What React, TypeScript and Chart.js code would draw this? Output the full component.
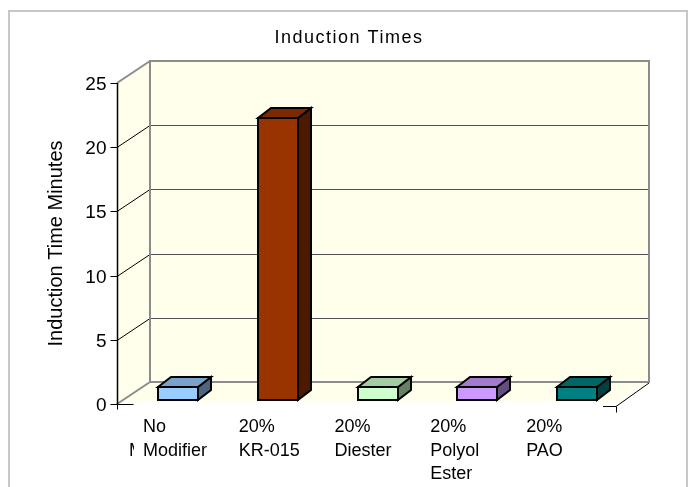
import React, { useEffect, useRef } from 'react';
import { Chart, registerables } from 'chart.js';

Chart.register(...registerables);

const categories: string[][] = [
  ['No', 'Modifier'],
  ['20%', 'KR-015'],
  ['20%', 'Diester'],
  ['20%', 'Polyol', 'Ester'],
  ['20%', 'PAO'],
];
const inductionTimes = [1, 22, 1, 1, 1];
const yTicks = [0, 5, 10, 15, 20, 25];
const frontColors = ['#99CCFF', '#993300', '#CCFFCC', '#CC99FF', '#008080'];
const topColors = ['#7AA3CC', '#7A2900', '#A3CCA3', '#A37ACC', '#006666'];
const sideColors = ['#4D6680', '#4D1A00', '#668066', '#664D80', '#004040'];
const chartTitle = 'Induction Times';
const yAxisTitle = 'Induction Time Minutes';

const FONT = "'Liberation Sans', Arial, sans-serif";
const WALL = '#FFFFEB';
const EDGE = '#8C8C8C';
const DX = -33; // back plane -> front plane
const DY = 22;
const BAR_OFF_X = -22;
const BAR_OFF_Y = 18;
const BAR_DX = 13;
const BAR_DY = -10;

function poly(ctx: CanvasRenderingContext2D, pts: number[][]) {
  ctx.beginPath();
  ctx.moveTo(pts[0][0], pts[0][1]);
  for (let i = 1; i < pts.length; i++) ctx.lineTo(pts[i][0], pts[i][1]);
  ctx.closePath();
}

function line(ctx: CanvasRenderingContext2D, x1: number, y1: number, x2: number, y2: number, color: string, w: number) {
  ctx.beginPath();
  ctx.moveTo(x1, y1);
  ctx.lineTo(x2, y2);
  ctx.strokeStyle = color;
  ctx.lineWidth = w;
  ctx.stroke();
}

const excel3d = {
  id: 'excel3d',
  beforeDatasetsDraw(chart: any) {
    const ctx: CanvasRenderingContext2D = chart.ctx;
    const a = chart.chartArea;
    const xs = chart.scales.x;
    const ys = chart.scales.y;
    const L = a.left;
    const R = a.right;
    const T = ys.getPixelForValue(yTicks[yTicks.length - 1]);
    const B = ys.getPixelForValue(0);
    ctx.save();

    // outer border
    ctx.strokeStyle = '#C8C8C8';
    ctx.lineWidth = 2;
    ctx.strokeRect(9, 11, 678, 490);

    // walls and floor
    ctx.fillStyle = WALL;
    ctx.fillRect(L, T, R - L, B - T);
    poly(ctx, [[L, T], [L + DX, T + DY], [L + DX, B + DY], [L, B]]);
    ctx.fill();
    poly(ctx, [[L, B], [R, B], [R + DX, B + DY - 2], [L + DX, B + DY - 2]]);
    ctx.fill();

    // gridlines
    yTicks.forEach((t) => {
      const yb = Math.round(ys.getPixelForValue(t));
      if (t !== 0 && t !== yTicks[yTicks.length - 1]) {
        line(ctx, L, yb + 0.5, R, yb + 0.5, '#505050', 1);
        line(ctx, L, yb + 0.5, L + DX, yb + DY + 0.5, '#000000', 1);
      }
    });

    // wall edges
    ctx.strokeStyle = EDGE;
    ctx.lineWidth = 2;
    ctx.strokeRect(L, T, R - L, B - T);
    line(ctx, L, T, L + DX, T + DY, EDGE, 2);
    line(ctx, L, B, L + DX, B + DY, EDGE, 2);

    // front axis
    const fx = L + DX + 0.5;
    line(ctx, fx, T + DY, fx, B + DY, '#000000', 1.5);
    ctx.fillStyle = '#000000';
    ctx.font = `19px ${FONT}`;
    ctx.textAlign = 'right';
    ctx.textBaseline = 'middle';
    yTicks.forEach((t, i) => {
      const yf = Math.round(ys.getPixelForValue(t) + DY) + 0.5;
      line(ctx, fx - 7, yf, fx, yf, '#000000', 1);
      ctx.fillText(String(yTicks[i]), fx - 11, yf + 1);
    });

    // floor front edge pieces and right diagonal
    const fy = Math.round(B + DY) + 0.5;
    line(ctx, fx, fy, fx + 16, fy, '#000000', 1);
    line(ctx, fx, fy, fx, fy + 5, '#000000', 1);
    line(ctx, R + DX - 13, fy + 2, R + DX, fy + 2, '#000000', 1);
    line(ctx, R + DX + 0.5, fy + 2, R + DX + 0.5, fy + 8, '#000000', 1);
    line(ctx, R, B + 1, R + DX, fy + 2, '#000000', 1);

    // bars
    const meta = chart.getDatasetMeta(0);
    ctx.lineJoin = 'miter';
    meta.data.forEach((el: any, i: number) => {
      const p = el.getProps(['x', 'y', 'base', 'width'], true);
      const x0 = Math.round(p.x - p.width / 2 + BAR_OFF_X);
      const x1 = Math.round(x0 + p.width);
      const yT = Math.round(p.y + BAR_OFF_Y);
      const yB = Math.round(p.base + BAR_OFF_Y);
      ctx.lineWidth = 2;
      ctx.strokeStyle = '#000000';
      // side
      poly(ctx, [[x1, yT], [x1 + BAR_DX, yT + BAR_DY], [x1 + BAR_DX, yB + BAR_DY], [x1, yB]]);
      ctx.fillStyle = sideColors[i];
      ctx.fill();
      ctx.stroke();
      // top
      poly(ctx, [[x0, yT], [x0 + BAR_DX, yT + BAR_DY], [x1 + BAR_DX, yT + BAR_DY], [x1, yT]]);
      ctx.fillStyle = topColors[i];
      ctx.fill();
      ctx.stroke();
      // front
      ctx.fillStyle = frontColors[i];
      ctx.fillRect(x0, yT, x1 - x0, yB - yT);
      ctx.strokeRect(x0, yT, x1 - x0, yB - yT);
    });

    // category labels
    ctx.fillStyle = '#000000';
    ctx.font = `18px ${FONT}`;
    ctx.textAlign = 'left';
    ctx.textBaseline = 'alphabetic';
    const x0p = xs.getPixelForValue(0);
    categories.forEach((lines, i) => {
      const left = x0p - 57 + (xs.getPixelForValue(i) - x0p) * 0.96;
      lines.forEach((s, k) => {
        ctx.fillText(s, left, 432 + k * 23.5);
      });
    });
    // clipped overflow glyph left of first label (as in the original rendering)
    ctx.save();
    ctx.beginPath();
    ctx.rect(x0p - 71, 440, 5, 20);
    ctx.clip();
    ctx.fillText(categories[0][1].charAt(0), x0p - 71, 455.5);
    ctx.restore();

    // title
    ctx.font = `18px ${FONT}`;
    (ctx as any).letterSpacing = '1.5px';
    ctx.textAlign = 'center';
    ctx.fillText(chartTitle, 349, 43);
    (ctx as any).letterSpacing = '0px';

    // y axis title
    ctx.save();
    ctx.translate(62, (T + B) / 2 + DY);
    ctx.rotate(-Math.PI / 2);
    ctx.font = `20px ${FONT}`;
    ctx.textAlign = 'center';
    ctx.textBaseline = 'alphabetic';
    ctx.fillText(yAxisTitle, 0, 0);
    ctx.restore();

    ctx.restore();
    return false;
  },
};

export default function App() {
  const ref = useRef<HTMLCanvasElement | null>(null);
  useEffect(() => {
    if (!ref.current) return;
    const chart = new Chart(ref.current, {
      type: 'bar',
      data: {
        labels: categories.map((c) => c.join(' ')),
        datasets: [
          {
            label: 'Induction Time Minutes',
            data: inductionTimes,
            backgroundColor: frontColors,
            barPercentage: 0.4,
            categoryPercentage: 1,
          },
        ],
      },
      options: {
        responsive: false,
        animation: false,
        layout: { padding: { left: 150, top: 61, right: 39, bottom: 105 } },
        plugins: {
          legend: { display: false },
          title: { display: false },
          tooltip: { enabled: false },
        },
        scales: {
          x: { type: 'category', display: false },
          y: { display: false, min: 0, max: 25 },
        },
      },
      plugins: [excel3d],
    });
    return () => chart.destroy();
  }, []);
  return (
    <div style={{ position: 'absolute', left: 0, top: 0, width: 688, height: 487, background: '#FFFFFF' }}>
      <canvas ref={ref} width={688} height={487} style={{ display: 'block' }} />
    </div>
  );
}
